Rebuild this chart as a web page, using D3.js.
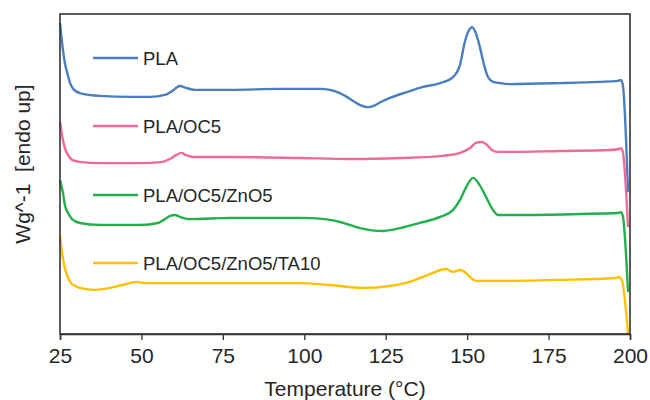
<!DOCTYPE html>
<html>
<head>
<meta charset="utf-8">
<script src="https://cdn.jsdelivr.net/npm/d3@7"></script>
<style>
  html, body { margin: 0; padding: 0; background: #fff; }
  svg { display: block; font-family: "Liberation Sans", Arial, sans-serif; }
</style>
</head>
<body>
<svg id="chart" width="650" height="400"></svg>
<script>
// ---- data (heat flow in arbitrary units, endo up) ----
const xTicks = [25, 50, 75, 100, 125, 150, 175, 200];
const seriesNames = ["PLA", "PLA/OC5", "PLA/OC5/ZnO5", "PLA/OC5/ZnO5/TA10"];
const seriesColors = ["#4a7ebf", "#ef6a98", "#22b04b", "#ffc000"];

const plaT = [25.0,25.9,26.5,27.5,28.1,29.3,31.1,37.3,46.5,52.6,57.2,59.4,61.8,63.7,66.4,77.2,92.5,104.8,107.9,113.1,115.0,117.0,119.3,121.5,123.5,126.3,131.5,136.5,141.7,145.7,147.8,149.3,150.6,151.5,152.4,153.6,155.2,156.4,157.9,160.1,163.2,178.5,190.8,196.3,197.2,197.8,199.4];
const plaV = [9.72,8.88,8.47,8.06,7.84,7.63,7.53,7.44,7.41,7.41,7.47,7.59,7.75,7.69,7.63,7.63,7.66,7.66,7.63,7.41,7.28,7.16,7.09,7.14,7.25,7.38,7.56,7.72,7.84,8.03,8.41,9.13,9.5,9.59,9.47,9.09,8.41,8.03,7.88,7.84,7.81,7.84,7.88,7.91,7.94,7.78,4.44];

const oc5T = [25.0,25.9,26.5,27.5,28.7,31.1,37.3,49.6,56.6,58.8,60.6,62.2,63.7,65.8,77.2,98.7,114.0,129.4,141.7,147.8,150.9,152.7,154.3,155.8,157.6,159.2,163.2,178.5,193.9,196.6,197.2,197.8,199.4];
const oc5V = [6.63,6.06,5.81,5.59,5.44,5.38,5.34,5.34,5.38,5.47,5.59,5.66,5.59,5.53,5.53,5.5,5.47,5.5,5.56,5.66,5.81,5.97,6.0,5.94,5.75,5.69,5.69,5.72,5.75,5.78,5.81,5.69,3.34];

const zno5T = [25.0,25.9,26.5,27.5,28.7,31.1,37.3,49.6,55.1,57.2,58.8,60.3,61.8,64.9,77.2,98.7,106.4,111.0,117.1,123.9,129.4,135.5,141.7,145.7,147.8,149.7,151.8,154.0,156.1,157.9,159.5,166.2,184.7,196.3,197.2,197.8,199.4];
const zno5V = [4.81,4.41,4.03,3.78,3.59,3.47,3.41,3.41,3.47,3.59,3.69,3.72,3.66,3.59,3.63,3.63,3.59,3.5,3.31,3.22,3.31,3.47,3.66,3.88,4.19,4.59,4.88,4.63,4.22,3.88,3.72,3.72,3.75,3.78,3.81,3.69,1.31];

const ta10T = [25.0,25.6,26.5,27.5,28.7,31.1,35.7,40.4,44.0,46.5,48.6,51.1,55.7,77.2,98.7,107.9,118.0,126.3,130.9,135.5,139.5,141.7,143.5,145.7,147.8,149.3,150.9,152.7,160.1,178.5,195.4,196.6,197.5,199.4];
const ta10V = [3.09,2.56,2.06,1.75,1.56,1.44,1.38,1.44,1.53,1.59,1.63,1.59,1.59,1.59,1.59,1.53,1.44,1.5,1.59,1.75,1.91,2.0,2.03,1.94,2.0,1.94,1.78,1.66,1.66,1.69,1.75,1.78,1.69,0.0];

const allT = [plaT, oc5T, zno5T, ta10T];
const allV = [plaV, oc5V, zno5V, ta10V];

// ---- layout ----
const svg = d3.select("#chart");
const pLeft = 60, pTop = 14, pRight = 630, pBottom = 334;

const x = d3.scaleLinear().domain([25, 200]).range([pLeft, pRight]);
const y = d3.scaleLinear().domain([0, 10]).range([pBottom, pTop]);

const textColor = "#262626";
const axisColor = "#333";

// series
const line = d3.line()
  .x(d => x(d[0]))
  .y(d => y(d[1]))
  .curve(d3.curveMonotoneX);

seriesNames.forEach((name, i) => {
  const pts = allT[i].map((t, j) => [t, allV[i][j]]);
  svg.append("path")
    .datum(pts)
    .attr("fill", "none")
    .attr("stroke", seriesColors[i])
    .attr("stroke-width", 2.4)
    .attr("stroke-linejoin", "round")
    .attr("d", line);
});

// frame
svg.append("rect")
  .attr("x", pLeft).attr("y", pTop)
  .attr("width", pRight - pLeft).attr("height", pBottom - pTop)
  .attr("fill", "none")
  .attr("stroke", axisColor)
  .attr("stroke-width", 1.6);

// x axis
const xAxis = d3.axisBottom(x).tickValues(xTicks).tickSize(6).tickPadding(8).tickFormat(d3.format("d"));
const gx = svg.append("g").attr("transform", `translate(0,${pBottom})`).call(xAxis);
gx.select(".domain").attr("stroke", axisColor).attr("stroke-width", 1.6);
gx.selectAll(".tick line").attr("stroke", axisColor).attr("stroke-width", 1.3);
gx.selectAll(".tick text")
  .attr("fill", textColor)
  .style("font-size", "21px")
  .style("font-family", "'Liberation Sans', Arial, sans-serif");

// x title
svg.append("text")
  .attr("x", (pLeft + pRight) / 2)
  .attr("y", 396)
  .attr("text-anchor", "middle")
  .attr("fill", textColor)
  .style("font-size", "21px")
  .text("Temperature (°C)");

// y title
svg.append("text")
  .attr("transform", `translate(30,164) rotate(-90)`)
  .attr("text-anchor", "middle")
  .attr("fill", textColor)
  .style("font-size", "21px")
  .style("white-space", "pre")
  .text("Wg^-1  [endo up]");

// legend (inline labels)
const legendY = [58, 126, 195, 263];
seriesNames.forEach((name, i) => {
  svg.append("line")
    .attr("x1", 93).attr("x2", 138)
    .attr("y1", legendY[i]).attr("y2", legendY[i])
    .attr("stroke", seriesColors[i])
    .attr("stroke-width", 2.4);
  svg.append("text")
    .attr("x", 143)
    .attr("y", legendY[i] + 6.5)
    .attr("fill", textColor)
    .style("font-size", "18.5px")
    .text(name);
});
</script>
</body>
</html>
